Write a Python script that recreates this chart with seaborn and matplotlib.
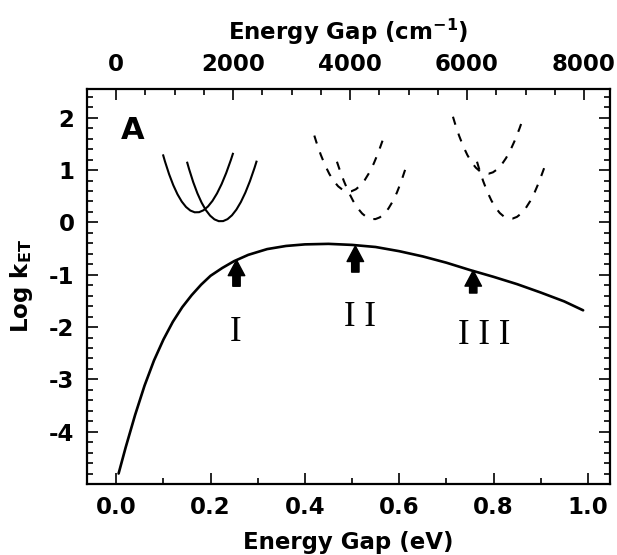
import matplotlib
matplotlib.use("Agg")
import matplotlib.pyplot as plt
from matplotlib.path import Path
from matplotlib.patches import PathPatch
from matplotlib.ticker import MultipleLocator, FormatStrFormatter
import numpy as np
import pandas as pd
import seaborn as sns

# main rate curve
gap_ev = [0.005, 0.02, 0.04, 0.06, 0.08, 0.10, 0.12, 0.14, 0.16, 0.18, 0.20, 0.225,
          0.25, 0.28, 0.32, 0.36, 0.40, 0.45, 0.50, 0.55, 0.60, 0.65, 0.70, 0.75,
          0.80, 0.85, 0.90, 0.95, 0.99]
log_k = [-4.80, -4.30, -3.68, -3.12, -2.64, -2.24, -1.90, -1.62, -1.39, -1.19, -1.02, -0.87,
         -0.74, -0.62, -0.51, -0.45, -0.42, -0.41, -0.43, -0.47, -0.55, -0.65, -0.77, -0.91,
         -1.04, -1.18, -1.34, -1.51, -1.68]

# potential wells sketched above the curve: left end, bottom, right end
well_x_left = [0.099, 0.150, 0.420, 0.468, 0.714, 0.765]
well_y_left = [1.30, 1.16, 1.66, 1.16, 2.02, 1.16]
well_x_min = [0.171, 0.222, 0.494, 0.545, 0.785, 0.836]
well_y_min = [0.19, 0.02, 0.59, 0.06, 0.93, 0.07]
well_x_right = [0.248, 0.298, 0.570, 0.617, 0.860, 0.911]
well_y_right = [1.33, 1.18, 1.71, 1.14, 1.92, 1.14]

# arrows marking the three regimes
arrow_x = [0.255, 0.507, 0.757]
arrow_tail = [-1.22, -0.95, -1.35]
arrow_tip = [-0.72, -0.45, -0.92]

regime_labels = ["I", "I I", "I I I"]
regime_x = [0.252, 0.517, 0.780]
regime_y = [-2.10, -1.81, -2.17]

top_ticks_cm = [0, 2000, 4000, 6000, 8000]
EV_TO_CM = 8065.54

sns.set_theme(style="ticks")
plt.rcParams['font.family'] = ['DejaVu Sans']
plt.rcParams['font.weight'] = 'bold'
plt.rcParams['mathtext.default'] = 'bf'
plt.rcParams['axes.unicode_minus'] = False
for key in ("text.color", "axes.labelcolor", "xtick.color", "ytick.color", "axes.edgecolor"):
    plt.rcParams[key] = "black"

fig = plt.figure(figsize=(6.17, 5.55), dpi=100)
ax = fig.add_axes([87 / 617, 1 - 484 / 555, (610 - 87) / 617, (484 - 89) / 555])

df = pd.DataFrame({"gap_ev": gap_ev, "log_k": log_k})
sns.lineplot(data=df, x="gap_ev", y="log_k", ax=ax, color="black", lw=1.9,
             sort=False, estimator=None)

# wells as quadratic bezier paths (a parabola through the three read points)
well_styles = ["-", "-", (0, (4, 4.5)), (0, (4, 4.5)), (0, (4, 4.5)), (0, (4, 4.5))]
for i in range(len(well_x_left)):
    p0 = np.array([well_x_left[i], well_y_left[i]])
    p2 = np.array([well_x_right[i], well_y_right[i]])
    v = np.array([well_x_min[i], well_y_min[i]])
    p1 = 2 * v - 0.5 * (p0 + p2)
    path = Path([p0, p1, p2], [Path.MOVETO, Path.CURVE3, Path.CURVE3])
    ax.add_patch(PathPatch(path, fill=False, ec="black", lw=1.5, ls=well_styles[i]))

for x, y0, y1 in zip(arrow_x, arrow_tail, arrow_tip):
    ax.annotate("", xy=(x, y1), xytext=(x, y0),
                arrowprops=dict(arrowstyle="simple,head_length=0.8,head_width=0.85,tail_width=0.38",
                                mutation_scale=14, color="black", shrinkA=0, shrinkB=0))

for lab, x, y in zip(regime_labels, regime_x, regime_y):
    ax.text(x, y, lab, ha="center", va="center", fontsize=25, fontweight="normal",
            family=["Liberation Serif", "DejaVu Serif"])

ax.text(0.034, 1.75, "A", ha="center", va="center", fontsize=22, fontweight="bold")

ax.set_xlim(-0.062, 1.047)
ax.set_ylim(-5.0, 2.55)
ax.xaxis.set_major_locator(MultipleLocator(0.2))
ax.xaxis.set_minor_locator(MultipleLocator(0.1))
ax.xaxis.set_major_formatter(FormatStrFormatter("%.1f"))
ax.yaxis.set_major_locator(MultipleLocator(1))
ax.yaxis.set_minor_locator(MultipleLocator(0.2))
ax.yaxis.set_major_formatter(FormatStrFormatter("%d"))
ax.set_yticks([2, 1, 0, -1, -2, -3, -4])
ax.tick_params(which="both", direction="in", top=False, right=True, width=1.2, color="black")
ax.tick_params(which="major", length=8, labelsize=16.5, pad=9)
ax.tick_params(which="minor", length=4)
for s in ax.spines.values():
    s.set_linewidth(1.6)
    s.set_color("black")

ax.set_xlabel("Energy Gap (eV)", fontsize=16.5, fontweight="bold", labelpad=8)
ax.set_ylabel("Log k$_{ET}$", fontsize=16.5, fontweight="bold", labelpad=10)

secax = ax.secondary_xaxis("top", functions=(lambda e: e * EV_TO_CM, lambda c: c / EV_TO_CM))
secax.set_xticks(top_ticks_cm)
secax.xaxis.set_minor_locator(MultipleLocator(500))
secax.tick_params(which="both", direction="in", width=1.2, color="black")
secax.tick_params(which="major", length=8, labelsize=16.5, pad=9)
secax.tick_params(which="minor", length=4)
secax.set_xlabel("Energy Gap (cm$^{-1}$)", fontsize=16.5, fontweight="bold", labelpad=10)

fig.savefig("out.png", dpi=100, facecolor="white")
